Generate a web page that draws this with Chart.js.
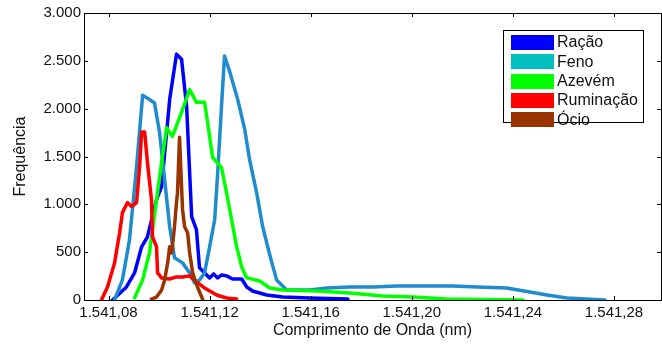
<!DOCTYPE html>
<html>
<head>
<meta charset="utf-8">
<script src="https://cdn.jsdelivr.net/npm/chart.js@4"></script>
<style>
  html, body { margin: 0; padding: 0; background: #fff; }
  #wrap { width: 662px; height: 347px; position: relative; }
</style>
</head>
<body>
<div id="wrap"><canvas id="chart"></canvas></div>
<script>
// wavelength (nm), frequency pairs for each diet / activity
const racao = [
  [1541.0816, 0], [1541.0871, 136], [1541.0903, 283], [1541.0931, 556], [1541.0954, 661],
  [1541.0990, 1049], [1541.1010, 1185], [1541.1042, 2098], [1541.1069, 2570], [1541.1089, 2517],
  [1541.1109, 2024], [1541.1121, 1332], [1541.1129, 871], [1541.1148, 734], [1541.1160, 336],
  [1541.1200, 231], [1541.1216, 273], [1541.1232, 231], [1541.1248, 262], [1541.1267, 252],
  [1541.1291, 220], [1541.1327, 220], [1541.1347, 136], [1541.1370, 94], [1541.1426, 52],
  [1541.1489, 31], [1541.1596, 21], [1541.1747, 10]
];
const feno = [
  [1541.0824, 0], [1541.0855, 210], [1541.0883, 629], [1541.0911, 1395], [1541.0935, 2140],
  [1541.0954, 2110], [1541.0982, 2060], [1541.1002, 1752], [1541.1022, 1259], [1541.1042, 766],
  [1541.1061, 441], [1541.1093, 388], [1541.1121, 283], [1541.1141, 178], [1541.1160, 210],
  [1541.1180, 283], [1541.1200, 556], [1541.1220, 839], [1541.1232, 1332], [1541.1247, 2024],
  [1541.1259, 2550], [1541.1279, 2392], [1541.1311, 2098], [1541.1339, 1783], [1541.1358, 1469],
  [1541.1386, 1122], [1541.1410, 766], [1541.1438, 472], [1541.1465, 210], [1541.1505, 105],
  [1541.1596, 105], [1541.1663, 126], [1541.1754, 136], [1541.1846, 136], [1541.1941, 147],
  [1541.2020, 147], [1541.2162, 147], [1541.2257, 136], [1541.2376, 126], [1541.2467, 84],
  [1541.2535, 52], [1541.2614, 21], [1541.2764, 0]
];
const azevem = [
  [1541.0903, 21], [1541.0935, 210], [1541.0962, 493], [1541.0990, 1049], [1541.1010, 1437],
  [1541.1030, 1800], [1541.1053, 1710], [1541.1089, 1961], [1541.1121, 2200], [1541.1148, 2066],
  [1541.1180, 2066], [1541.1192, 1857], [1541.1212, 1490], [1541.1247, 1385], [1541.1267, 1122],
  [1541.1287, 839], [1541.1307, 556], [1541.1327, 346], [1541.1347, 231], [1541.1398, 199],
  [1541.1438, 126], [1541.1489, 105], [1541.1624, 94], [1541.1754, 73], [1541.1885, 42],
  [1541.2004, 31], [1541.2139, 10], [1541.2440, 0]
];
const ruminacao = [
  [1541.0772, 0], [1541.0796, 136], [1541.0824, 388], [1541.0844, 703], [1541.0855, 913],
  [1541.0875, 1018], [1541.0891, 976], [1541.0911, 1018], [1541.0923, 1395], [1541.0931, 1755],
  [1541.0943, 1755], [1541.0954, 1437], [1541.0970, 1049], [1541.0974, 661], [1541.0990, 556],
  [1541.0994, 283], [1541.1010, 231], [1541.1042, 220], [1541.1069, 241], [1541.1093, 241],
  [1541.1121, 252], [1541.1148, 189], [1541.1180, 126], [1541.1228, 52], [1541.1267, 21],
  [1541.1307, 10]
];
const ocio = [
  [1541.0970, 10], [1541.0990, 31], [1541.1010, 105], [1541.1022, 210], [1541.1034, 388],
  [1541.1042, 556], [1541.1050, 493], [1541.1061, 766], [1541.1069, 1018], [1541.1073, 1122],
  [1541.1081, 1700], [1541.1089, 1185], [1541.1093, 944], [1541.1101, 766], [1541.1113, 703],
  [1541.1121, 493], [1541.1133, 283], [1541.1152, 136], [1541.1172, 10]
];

const seriesNames = ['Ração', 'Feno', 'Azevém', 'Ruminação', 'Ócio'];
const seriesData = [racao, feno, azevem, ruminacao, ocio];
const lineColors = ['#0000ff', '#1e8ccd', '#00ff00', '#ff0000', '#993300'];
const legendColors = ['#0000ff', '#00bfbf', '#00ff00', '#ff0000', '#993300'];

const xTicks = [1541.08, 1541.12, 1541.16, 1541.20, 1541.24, 1541.28];
const yTicks = [0, 500, 1000, 1500, 2000, 2500, 3000];
const xMin = 1541.0703, xMax = 1541.2986;

const FONT = 'Liberation Sans, Arial, sans-serif';

function thousands(n) {
  return String(n).replace(/\B(?=(\d{3})+(?!\d))/g, '.');
}
function fmtWave(v) {
  const [i, f] = v.toFixed(2).split('.');
  return thousands(i) + ',' + f;
}

// box around the axes with short inward ticks on every side
const framePlugin = {
  id: 'frame',
  afterDatasetsDraw(chart) {
    const { ctx, chartArea: a, scales } = chart;
    ctx.save();
    ctx.strokeStyle = '#000';
    ctx.lineWidth = 1;
    ctx.strokeRect(a.left + 0.5, a.top + 0.5, a.right - a.left, a.bottom - a.top);
    const len = 4;
    ctx.beginPath();
    scales.x.ticks.forEach(t => {
      const px = Math.round(scales.x.getPixelForValue(t.value)) + 0.5;
      ctx.moveTo(px, a.bottom); ctx.lineTo(px, a.bottom - len);
      ctx.moveTo(px, a.top); ctx.lineTo(px, a.top + len);
    });
    scales.y.ticks.forEach(t => {
      const py = Math.round(scales.y.getPixelForValue(t.value)) + 0.5;
      ctx.moveTo(a.left, py); ctx.lineTo(a.left + len, py);
      ctx.moveTo(a.right, py); ctx.lineTo(a.right - len, py);
    });
    ctx.stroke();
    ctx.restore();
  }
};

// boxed legend in the upper right corner
const legendBoxPlugin = {
  id: 'legendBox',
  afterDraw(chart) {
    const { ctx } = chart;
    const left = 503.5, top = 30.5, w = 140, h = 92;
    ctx.save();
    ctx.fillStyle = '#fff';
    ctx.fillRect(left, top, w, h);
    ctx.strokeStyle = '#000';
    ctx.lineWidth = 1;
    ctx.strokeRect(left, top, w, h);
    ctx.font = '16px ' + FONT;
    ctx.textBaseline = 'middle';
    seriesNames.forEach((name, i) => {
      const cy = 42 + i * 19.3;
      ctx.fillStyle = legendColors[i];
      ctx.fillRect(511, Math.round(cy - 7), 43, 15);
      ctx.fillStyle = '#111';
      ctx.fillText(name, 557, cy + 1);
    });
    ctx.restore();
  }
};

new Chart(document.getElementById('chart'), {
  type: 'line',
  data: {
    datasets: seriesData.map((d, i) => ({
      label: seriesNames[i],
      data: d.map(([x, y]) => ({ x, y })),
      borderColor: lineColors[i],
      backgroundColor: lineColors[i],
      borderWidth: 3.5,
      borderJoinStyle: 'round',
      borderCapStyle: 'round',
      pointRadius: 0,
      tension: 0,
      fill: false,
      order: seriesData.length - i
    }))
  },
  options: {
    responsive: true,
    maintainAspectRatio: false,
    animation: false,
    layout: { padding: { top: 13, right: 1, left: 11, bottom: 0 } },
    plugins: {
      legend: { display: false },
      tooltip: { enabled: false }
    },
    scales: {
      x: {
        type: 'linear',
        min: xMin,
        max: xMax,
        afterBuildTicks: s => { s.ticks = xTicks.map(v => ({ value: v })); },
        afterFit: s => { s.height = 47; },
        grid: { display: false, drawTicks: false },
        border: { display: false },
        ticks: {
          color: '#111',
          font: { family: FONT, size: 15 },
          padding: 4,
          maxRotation: 0,
          autoSkip: false,
          callback: v => fmtWave(v)
        },
        title: {
          display: true,
          text: 'Comprimento de Onda (nm)',
          color: '#111',
          font: { family: FONT, size: 16 },
          padding: { top: 0, bottom: 7 }
        }
      },
      y: {
        min: 0,
        max: 3000,
        afterBuildTicks: s => { s.ticks = yTicks.map(v => ({ value: v })); },
        afterFit: s => { s.width = 73; },
        grid: { display: false, drawTicks: false },
        border: { display: false },
        ticks: {
          color: '#111',
          font: { family: FONT, size: 15 },
          padding: 3,
          callback: v => thousands(v)
        },
        title: {
          display: true,
          text: 'Frequência',
          color: '#111',
          font: { family: FONT, size: 16 },
          padding: 0
        }
      }
    }
  },
  plugins: [framePlugin, legendBoxPlugin]
});
</script>
</body>
</html>
